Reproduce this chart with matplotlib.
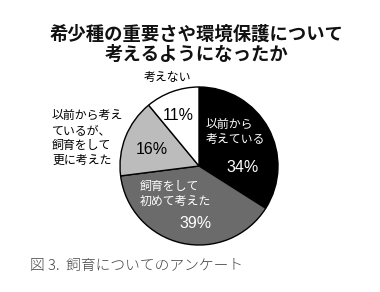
import matplotlib.pyplot as plt

plt.rcParams['font.family'] = ['Noto Sans CJK JP', 'DejaVu Sans']

TITLE = "希少種の重要さや環境保護について\n考えるようになったか"
CAPTION = "図 3.  飼育についてのアンケート"

labels = ["以前から\n考えている", "飼育をして\n初めて考えた", "以前から考え\nているが、\n飼育をして\n更に考えた", "考えない"]
values = [34, 39, 16, 11]
colors = ["#000000", "#6b6b6b", "#bcbcbc", "#ffffff"]

W, H = 380, 292
fig = plt.figure(figsize=(W / 100, H / 100), dpi=100)
ax = fig.add_axes([0, 0, 1, 1])

cx, cy, r = 199, H - 166, 79
ax.pie(values, colors=colors, startangle=90, counterclock=False,
       center=(cx, cy), radius=r, frame=True,
       wedgeprops=dict(edgecolor="black", linewidth=1.0))
ax.set_xlim(0, W)
ax.set_ylim(0, H)
ax.set_aspect("equal")
ax.axis("off")

ax.text(197, H - 44, TITLE, ha="center", va="center", fontsize=13.2,
        fontweight="bold", linespacing=1.1, color="#111111")

# label text: (label x, label y, pct x, pct y, color, ha)
pos = [
    (206, H - 132, 243, H - 167, "white", "left"),
    (140, H - 194, 196, H - 223, "white", "left"),
    (52, H - 138, 152, H - 150, "black", "left"),
    (168, H - 77, 178, H - 115, "black", "center"),
]
for lab, v, (lx, ly, px, py, c, ha) in zip(labels, values, pos):
    ax.text(lx, ly, lab, ha=ha, va="center", fontsize=8.6, color=c,
            linespacing=1.2)
    ax.text(px, py, f"{v}%", ha="center", va="center", fontsize=11.5,
            color=c, family=["Liberation Sans", "DejaVu Sans"])

ax.text(30, H - 266, CAPTION, ha="left", va="center", fontsize=10.6,
        color="#444444", fontweight="light")

fig.savefig("out.png", dpi=100)
